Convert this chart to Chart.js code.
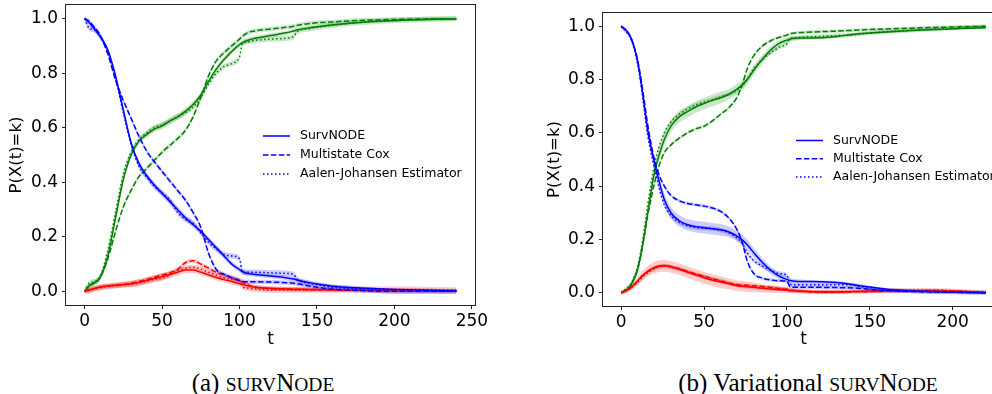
<!DOCTYPE html>
<html>
<head>
<meta charset="utf-8">
<script src="https://cdn.jsdelivr.net/npm/chart.js@4.4.0/dist/chart.umd.min.js"></script>
<style>
html, body { margin: 0; padding: 0; background: #fff; width: 992px; height: 394px; overflow: hidden; position: relative; }
canvas { position: absolute; top: 0; }
#chartA { left: 0; }
#chartB { left: 540px; }
.cap { position: absolute; top: 370px; font-family: "Liberation Serif", "DejaVu Serif", serif; font-size: 25px; line-height: 25px; white-space: nowrap; text-align: center; color: #000; }
.sc { font-size: 0.78em; text-transform: uppercase; }
</style>
</head>
<body>
<canvas id="chartA" width="490" height="360"></canvas>
<canvas id="chartB" width="480" height="360"></canvas>
<div class="cap" style="left:163px;width:200px">(a) <span class="sc">surv</span>N<span class="sc">ode</span></div>
<div class="cap" style="left:658px;width:300px">(b) Variational <span class="sc">surv</span>N<span class="sc">ode</span></div>
<script>
var methods = ['SurvNODE', 'Multistate Cox', 'Aalen-Johansen Estimator'];
// state 0 = blue, state 1 = red, state 2 = green
var stateColors = ['#0000ff', '#ff0000', '#008000'];
var yTicks = [0, 0.2, 0.4, 0.6, 0.8, 1.0];
var xTicksA = [0, 50, 100, 150, 200, 250];
var xTicksB = [0, 50, 100, 150, 200];

// (a) survNODE
var tA = [0, 3, 6, 10, 15, 20, 25, 30, 35, 40, 45, 50, 55, 60, 65, 70, 75, 80, 85, 90, 95, 100, 102, 105, 110, 120, 130, 135, 137, 145, 150, 160, 175, 200, 220, 240];
var aNode0 = [1.0, 0.985, 0.965, 0.935, 0.885, 0.79, 0.665, 0.545, 0.47, 0.425, 0.39, 0.36, 0.33, 0.30, 0.27, 0.245, 0.22, 0.19, 0.16, 0.13, 0.10, 0.08, 0.072, 0.066, 0.062, 0.056, 0.05, 0.045, 0.042, 0.032, 0.027, 0.019, 0.013, 0.007, 0.004, 0.002];
var aCox0 = [1.0, 0.99, 0.97, 0.94, 0.87, 0.775, 0.70, 0.635, 0.57, 0.515, 0.475, 0.44, 0.405, 0.37, 0.335, 0.29, 0.235, 0.14, 0.08, 0.062, 0.05, 0.04, 0.036, 0.035, 0.035, 0.034, 0.032, 0.03, 0.028, 0.02, 0.015, 0.008, 0.004, 0.0, 0.0, 0.0];
var aAJ0 = [1.0, 0.965, 0.96, 0.935, 0.88, 0.78, 0.655, 0.54, 0.46, 0.42, 0.385, 0.36, 0.335, 0.29, 0.265, 0.25, 0.215, 0.18, 0.155, 0.135, 0.13, 0.12, 0.07, 0.07, 0.07, 0.068, 0.066, 0.062, 0.045, 0.03, 0.025, 0.015, 0.01, 0.0, 0.0, 0.0];
var aNode1 = [0, 0.005, 0.01, 0.016, 0.02, 0.022, 0.025, 0.028, 0.033, 0.04, 0.047, 0.054, 0.062, 0.07, 0.078, 0.078, 0.07, 0.06, 0.051, 0.043, 0.036, 0.028, 0.025, 0.021, 0.015, 0.011, 0.009, 0.008, 0.008, 0.007, 0.007, 0.006, 0.005, 0.004, 0.003, 0.002];
var aCox1 = [0, 0.005, 0.01, 0.016, 0.02, 0.022, 0.025, 0.03, 0.036, 0.044, 0.052, 0.06, 0.068, 0.08, 0.105, 0.112, 0.10, 0.085, 0.07, 0.06, 0.05, 0.038, 0.034, 0.025, 0.016, 0.01, 0.008, 0.007, 0.007, 0.006, 0.006, 0.005, 0.004, 0.003, 0.002, 0.001];
var aAJ1 = [0, 0.003, 0.008, 0.013, 0.018, 0.02, 0.024, 0.026, 0.03, 0.037, 0.044, 0.048, 0.06, 0.075, 0.085, 0.088, 0.082, 0.07, 0.06, 0.05, 0.045, 0.04, 0.018, 0.012, 0.008, 0.005, 0.005, 0.005, 0.005, 0.005, 0.005, 0.006, 0.007, 0.008, 0.007, 0.005];
var aNode2 = [0, 0.02, 0.03, 0.05, 0.13, 0.27, 0.41, 0.50, 0.55, 0.575, 0.595, 0.607, 0.625, 0.64, 0.66, 0.685, 0.72, 0.77, 0.815, 0.85, 0.88, 0.905, 0.912, 0.92, 0.928, 0.938, 0.948, 0.955, 0.958, 0.966, 0.97, 0.977, 0.985, 0.993, 0.997, 0.999];
var aCox2 = [0, 0.02, 0.03, 0.05, 0.12, 0.22, 0.31, 0.37, 0.42, 0.45, 0.48, 0.51, 0.535, 0.56, 0.59, 0.64, 0.71, 0.79, 0.845, 0.875, 0.90, 0.925, 0.935, 0.948, 0.955, 0.962, 0.968, 0.972, 0.975, 0.982, 0.985, 0.988, 0.993, 0.997, 0.999, 1.0];
var aAJ2 = [0, 0.03, 0.035, 0.055, 0.15, 0.29, 0.43, 0.51, 0.555, 0.58, 0.60, 0.61, 0.625, 0.64, 0.655, 0.675, 0.71, 0.76, 0.80, 0.825, 0.835, 0.86, 0.91, 0.915, 0.92, 0.925, 0.928, 0.935, 0.952, 0.963, 0.968, 0.976, 0.985, 0.993, 0.997, 1.0];
// half width of the shaded band around each curve (SurvNODE varies with t)
var aNodeBand = [0.003, 0.008, 0.01, 0.01, 0.01, 0.01, 0.012, 0.012, 0.012, 0.012, 0.012, 0.012, 0.012, 0.012, 0.012, 0.012, 0.01, 0.01, 0.01, 0.01, 0.01, 0.01, 0.01, 0.01, 0.008, 0.008, 0.008, 0.008, 0.007, 0.006, 0.005, 0.005, 0.004, 0.004, 0.003, 0.003];
var aBandHalf = [aNodeBand, 0.008, 0.010];

// (b) Variational survNODE
var tB = [0, 3, 6, 10, 13, 16, 20, 23, 26, 30, 35, 40, 45, 50, 55, 60, 65, 70, 73, 76, 80, 85, 90, 95, 100, 102, 105, 110, 120, 130, 140, 150, 160, 175, 190, 205, 220];
var bNode0 = [1.0, 0.985, 0.955, 0.865, 0.745, 0.61, 0.49, 0.415, 0.35, 0.30, 0.27, 0.255, 0.248, 0.244, 0.24, 0.236, 0.228, 0.212, 0.198, 0.18, 0.15, 0.115, 0.085, 0.063, 0.05, 0.046, 0.043, 0.042, 0.041, 0.038, 0.03, 0.021, 0.013, 0.007, 0.004, 0.002, 0.0];
var bCox0 = [1.0, 0.985, 0.955, 0.87, 0.76, 0.63, 0.50, 0.44, 0.40, 0.365, 0.345, 0.335, 0.33, 0.325, 0.318, 0.305, 0.28, 0.235, 0.19, 0.12, 0.072, 0.055, 0.048, 0.045, 0.042, 0.022, 0.02, 0.02, 0.02, 0.019, 0.018, 0.012, 0.008, 0.004, 0.002, 0.001, 0.0];
var bAJ0 = [1.0, 0.98, 0.95, 0.855, 0.73, 0.59, 0.47, 0.39, 0.33, 0.29, 0.265, 0.252, 0.245, 0.242, 0.24, 0.235, 0.225, 0.205, 0.185, 0.15, 0.12, 0.10, 0.085, 0.072, 0.065, 0.032, 0.03, 0.03, 0.03, 0.03, 0.028, 0.015, 0.01, 0.006, 0.003, 0.001, 0.0];
var bNode1 = [0, 0.008, 0.02, 0.045, 0.065, 0.08, 0.095, 0.10, 0.101, 0.097, 0.088, 0.077, 0.066, 0.056, 0.047, 0.04, 0.033, 0.026, 0.024, 0.022, 0.02, 0.017, 0.014, 0.011, 0.009, 0.008, 0.007, 0.005, 0.003, 0.003, 0.004, 0.005, 0.006, 0.007, 0.006, 0.004, 0.001];
var bCox1 = [0, 0.008, 0.02, 0.045, 0.065, 0.08, 0.093, 0.10, 0.102, 0.098, 0.09, 0.08, 0.07, 0.062, 0.053, 0.045, 0.036, 0.03, 0.029, 0.028, 0.026, 0.023, 0.02, 0.016, 0.012, 0.01, 0.008, 0.005, 0.002, 0.002, 0.003, 0.004, 0.005, 0.007, 0.008, 0.005, 0.001];
var bAJ1 = [0, 0.006, 0.018, 0.04, 0.06, 0.075, 0.09, 0.097, 0.10, 0.096, 0.088, 0.078, 0.068, 0.058, 0.05, 0.043, 0.035, 0.028, 0.025, 0.023, 0.02, 0.018, 0.016, 0.015, 0.014, 0.007, 0.006, 0.005, 0.004, 0.004, 0.005, 0.006, 0.008, 0.01, 0.01, 0.006, 0.001];
var bNode2 = [0, 0.01, 0.03, 0.09, 0.18, 0.30, 0.45, 0.52, 0.575, 0.625, 0.66, 0.68, 0.697, 0.71, 0.722, 0.732, 0.745, 0.765, 0.78, 0.80, 0.835, 0.875, 0.91, 0.935, 0.948, 0.952, 0.955, 0.956, 0.957, 0.962, 0.97, 0.975, 0.979, 0.984, 0.988, 0.992, 0.995];
var bCox2 = [0, 0.01, 0.03, 0.09, 0.18, 0.29, 0.41, 0.48, 0.525, 0.555, 0.58, 0.60, 0.615, 0.625, 0.645, 0.67, 0.695, 0.735, 0.78, 0.84, 0.89, 0.925, 0.945, 0.958, 0.967, 0.972, 0.975, 0.977, 0.98, 0.982, 0.985, 0.988, 0.99, 0.993, 0.996, 0.998, 1.0];
var bAJ2 = [0, 0.015, 0.035, 0.10, 0.20, 0.33, 0.48, 0.55, 0.60, 0.64, 0.67, 0.69, 0.705, 0.715, 0.725, 0.735, 0.745, 0.76, 0.775, 0.80, 0.84, 0.875, 0.90, 0.92, 0.935, 0.955, 0.957, 0.96, 0.962, 0.965, 0.968, 0.975, 0.98, 0.985, 0.99, 0.995, 1.0];
var bNodeBand = [0.003, 0.006, 0.01, 0.015, 0.018, 0.02, 0.022, 0.022, 0.022, 0.022, 0.022, 0.022, 0.022, 0.022, 0.022, 0.022, 0.02, 0.02, 0.02, 0.02, 0.018, 0.016, 0.014, 0.012, 0.01, 0.009, 0.008, 0.007, 0.006, 0.006, 0.005, 0.005, 0.005, 0.004, 0.004, 0.003, 0.003];
var bBandHalf = [bNodeBand, 0.006, 0.008];

var dashes = [[], [5.5, 2.4], [1.5, 2.5]];
var font = 'DejaVu Sans';

function rgba(hex, a) {
	var n = parseInt(hex.slice(1), 16);
	return 'rgba(' + (n >> 16 & 255) + ',' + (n >> 8 & 255) + ',' + (n & 255) + ',' + a + ')';
}

function halfAt(h, i) {
	return Array.isArray(h) ? h[i] : h;
}

function buildDatasets(t, series, bandHalf) {
	var ds = [];
	for (var s = 0; s < series.length; s++) {
		for (var m = 0; m < series[s].length; m++) {
			var vals = series[s][m];
			var h = bandHalf[m];
			ds.push({
				data: t.map(function (x, i) { return {x: x, y: vals[i]}; }),
				borderColor: stateColors[s],
				borderWidth: 1.5,
				borderDash: dashes[m],
				pointRadius: 0,
				fill: false,
				cubicInterpolationMode: 'monotone',
				order: 0
			});
			ds.push({
				data: t.map(function (x, i) { return {x: x, y: vals[i] + halfAt(h, i)}; }),
				borderColor: 'transparent',
				borderWidth: 0,
				backgroundColor: rgba(stateColors[s], 0.2),
				pointRadius: 0,
				fill: '+1',
				cubicInterpolationMode: 'monotone',
				order: 1
			});
			ds.push({
				data: t.map(function (x, i) { return {x: x, y: vals[i] - halfAt(h, i)}; }),
				borderColor: 'transparent',
				borderWidth: 0,
				pointRadius: 0,
				fill: false,
				cubicInterpolationMode: 'monotone',
				order: 1
			});
		}
	}
	return ds;
}

var insideLegend = {
	id: 'insideLegend',
	afterDatasetsDraw: function (chart, args, opts) {
		var ctx = chart.ctx, a = chart.chartArea;
		ctx.save();
		ctx.font = '12.5px "' + font + '"';
		ctx.textBaseline = 'middle';
		ctx.fillStyle = '#000';
		for (var m = 0; m < methods.length; m++) {
			var x = a.left + opts.x, y = a.top + opts.y + m * opts.dy;
			ctx.beginPath();
			ctx.setLineDash(dashes[m]);
			ctx.strokeStyle = stateColors[0];
			ctx.lineWidth = 1.5;
			ctx.moveTo(x, y);
			ctx.lineTo(x + 27, y);
			ctx.stroke();
			ctx.setLineDash([]);
			ctx.fillText(methods[m], x + 37, y);
		}
		ctx.restore();
	}
};

var frame = {
	id: 'frame',
	afterDraw: function (chart) {
		var ctx = chart.ctx, a = chart.chartArea;
		ctx.save();
		ctx.strokeStyle = '#222';
		ctx.lineWidth = 1;
		ctx.strokeRect(Math.round(a.left) - 0.5, Math.round(a.top) - 0.5, Math.round(a.right - a.left) + 1, Math.round(a.bottom - a.top) + 1);
		ctx.restore();
	}
};

function makeChart(id, t, series, bandHalf, xMin, xMax, xTicks, box, legend) {
	return new Chart(document.getElementById(id), {
		type: 'line',
		data: {datasets: buildDatasets(t, series, bandHalf)},
		plugins: [insideLegend, frame],
		options: {
			responsive: false,
			animation: false,
			devicePixelRatio: 1,
			layout: {padding: {top: box.top, right: box.right, left: 0, bottom: 0}},
			plugins: {legend: {display: false}, tooltip: {enabled: false}, insideLegend: legend},
			scales: {
				x: {
					type: 'linear', min: xMin, max: xMax,
					afterBuildTicks: function (s) { s.ticks = xTicks.map(function (v) { return {value: v}; }); },
					afterFit: function (s) { s.height = box.xH; s.paddingLeft = 0; s.paddingRight = 0; },
					ticks: {font: {family: font, size: 17}, color: '#000', padding: 2, maxRotation: 0, autoSkip: false,
						callback: function (v) { return String(v); }},
					grid: {drawOnChartArea: false, drawTicks: true, tickLength: 4, tickColor: '#222'},
					border: {display: false},
					title: {display: true, text: 't', font: {family: font, size: 17}, color: '#000', padding: {top: 0, bottom: 9.8}}
				},
				y: {
					type: 'linear', min: -0.05, max: 1.05,
					afterBuildTicks: function (s) { s.ticks = yTicks.map(function (v) { return {value: v}; }); },
					afterFit: function (s) { s.width = box.yW; s.paddingTop = 0; s.paddingBottom = 0; },
					ticks: {font: {family: font, size: 17}, color: '#000', padding: 4,
						callback: function (v) { return v.toFixed(1); }},
					grid: {drawOnChartArea: false, drawTicks: true, tickLength: 4, tickColor: '#222'},
					border: {display: false},
					title: {display: true, text: 'P(X(t)=k)', font: {family: font, size: 16.5}, color: '#000', padding: {top: box.titlePad, bottom: 0}}
				}
			}
		}
	});
}

makeChart('chartA', tA,
	[[aNode0, aCox0, aAJ0], [aNode1, aCox1, aAJ1], [aNode2, aCox2, aAJ2]],
	aBandHalf, -12, 252, xTicksA,
	{top: 5, right: 15, xH: 55, yW: 66, titlePad: 7.3},
	{x: 197, y: 131, dy: 19});

makeChart('chartB', tB,
	[[bNode0, bCox0, bAJ0], [bNode1, bCox1, bAJ1], [bNode2, bCox2, bAJ2]],
	bBandHalf, -11, 231, xTicksB,
	{top: 13, right: 16, xH: 54, yW: 63, titlePad: 5.3},
	{x: 193, y: 127.5, dy: 18.3});
</script>
</body>
</html>
